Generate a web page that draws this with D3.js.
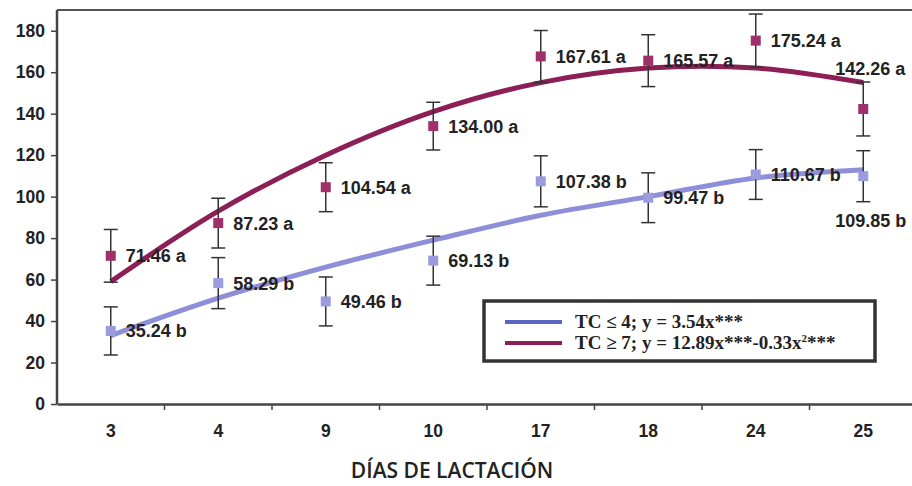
<!DOCTYPE html>
<html lang="es">
<head>
<meta charset="UTF-8">
<title>Días de lactación</title>
<script src="https://d3js.org/d3.v7.min.js"></script>
<style>
  body { margin: 0; background: #fff; }
  .axis text { font-family: "Liberation Sans", Arial, sans-serif; font-weight: bold; font-size: 17.5px; fill: #222; }
  .axis path, .axis line { stroke: #444; }
  .lbl { font-family: "Liberation Sans", Arial, sans-serif; font-weight: bold; font-size: 18px; fill: #222; }
  .leg { font-family: "Liberation Serif", "Times New Roman", serif; font-weight: bold; font-size: 19px; fill: #222; }
  .xtitle { font-family: "Open Sans", sans-serif; font-weight: 600; font-size: 21px; fill: #222; }
</style>
</head>
<body>
<svg id="chart" width="912" height="486"></svg>
<script>
// días de lactación
const days = ["3", "4", "9", "10", "17", "18", "24", "25"];
// TC >= 7
const highMeans = [71.46, 87.23, 104.54, 134.00, 167.61, 165.57, 175.24, 142.26];
const highLetters = ["a", "a", "a", "a", "a", "a", "a", "a"];
const highErr = [12.7, 12, 11.8, 11.5, 12.5, 12.5, 12.8, 13];
const highFit = [59, 93, 120, 141, 155, 162, 162, 155];
// TC <= 4
const lowMeans = [35.24, 58.29, 49.46, 69.13, 107.38, 99.47, 110.67, 109.85];
const lowLetters = ["b", "b", "b", "b", "b", "b", "b", "b"];
const lowErr = [11.6, 12.3, 11.8, 11.8, 12.3, 12, 12, 12.3];
const lowFit = [33, 51, 66, 79, 91, 100, 109, 113];
const yTicks = [0, 20, 40, 60, 80, 100, 120, 140, 160, 180];

const svg = d3.select("#chart");
const plotL = 57, plotR = 917, plotT = 10, plotB = 404;

const x = d3.scaleBand().domain(days).range([plotL, plotR]).padding(0);
const y = d3.scaleLinear().domain([0, 190]).range([plotB, plotT]);
const cx = d => x(d) + x.bandwidth() / 2;

const highColor = "#a0306a", highLine = "#8c1f55";
const lowColor = "#9b9be0", lowLine = "#8e8ed9";

// top border
svg.append("line").attr("x1", plotL).attr("x2", 912).attr("y1", plotT).attr("y2", plotT)
  .attr("stroke", "#555").attr("stroke-width", 2);

// y axis
const ya = svg.append("g").attr("class", "axis")
  .attr("transform", `translate(${plotL},0)`)
  .call(d3.axisLeft(y).tickValues(yTicks).tickSize(6).tickPadding(6).tickSizeOuter(0));
ya.select(".domain").remove();
ya.selectAll(".tick line").attr("stroke-width", 1.5);
svg.append("line").attr("x1", plotL).attr("x2", plotL).attr("y1", plotT).attr("y2", plotB)
  .attr("stroke", "#444").attr("stroke-width", 2.5);

// x axis
const xa = svg.append("g").attr("class", "axis")
  .attr("transform", `translate(0,${plotB})`)
  .call(d3.axisBottom(x).tickSize(0).tickPadding(21).tickSizeOuter(0));
xa.select(".domain").attr("stroke-width", 2.5);
svg.selectAll(".xb").data(days.slice(1)).enter().append("line")
  .attr("x1", d => x(d)).attr("x2", d => x(d))
  .attr("y1", plotB).attr("y2", plotB + 6)
  .attr("stroke", "#444").attr("stroke-width", 1.5);

svg.append("text").attr("class", "xtitle")
  .attr("x", 452).attr("y", 478).attr("text-anchor", "middle")
  .text("DÍAS DE LACTACIÓN");

// fitted curves
const fitLine = d3.line().x((d, i) => cx(days[i])).y(d => y(d)).curve(d3.curveCatmullRom);
svg.append("path").datum(lowFit).attr("d", fitLine)
  .attr("fill", "none").attr("stroke", lowLine).attr("stroke-width", 5);
svg.append("path").datum(highFit).attr("d", fitLine)
  .attr("fill", "none").attr("stroke", highLine).attr("stroke-width", 5);

// error bars and markers
function drawSeries(means, errs, color) {
  const g = svg.append("g");
  means.forEach((m, i) => {
    const px = cx(days[i]);
    const y1 = y(m + errs[i]), y0 = y(m - errs[i]);
    g.append("line").attr("x1", px).attr("x2", px).attr("y1", y1).attr("y2", y0)
      .attr("stroke", "#333").attr("stroke-width", 1.5);
    [y1, y0].forEach(yy => g.append("line")
      .attr("x1", px - 7).attr("x2", px + 7).attr("y1", yy).attr("y2", yy)
      .attr("stroke", "#333").attr("stroke-width", 1.5));
    g.append("rect").attr("x", px - 5).attr("y", y(m) - 5)
      .attr("width", 10).attr("height", 10).attr("fill", color);
  });
}
drawSeries(lowMeans, lowErr, lowColor);
drawSeries(highMeans, highErr, highColor);

// value labels
const shift = { "high-7": [-28, -40], "low-7": [-28, 44] };
function drawLabels(means, letters, key) {
  means.forEach((m, i) => {
    const off = shift[key + "-" + i] || [15, 0];
    svg.append("text").attr("class", "lbl")
      .attr("x", cx(days[i]) + off[0]).attr("y", y(m) + off[1])
      .attr("dy", "0.36em")
      .text(m.toFixed(2) + " " + letters[i]);
  });
}
drawLabels(lowMeans, lowLetters, "low");
drawLabels(highMeans, highLetters, "high");

// legend
const lg = svg.append("g");
lg.append("rect").attr("x", 484).attr("y", 301).attr("width", 391).attr("height", 60)
  .attr("fill", "#fff").attr("stroke", "#333").attr("stroke-width", 3.5);
lg.append("line").attr("x1", 505).attr("x2", 562).attr("y1", 322).attr("y2", 322)
  .attr("stroke", "#5a66c4").attr("stroke-width", 4);
lg.append("line").attr("x1", 505).attr("x2", 562).attr("y1", 343).attr("y2", 343)
  .attr("stroke", "#8c1f55").attr("stroke-width", 4);
lg.append("text").attr("class", "leg").attr("x", 575).attr("y", 328)
  .text("TC ≤ 4; y = 3.54x***");
const t2 = lg.append("text").attr("class", "leg").attr("x", 575).attr("y", 349);
t2.append("tspan").text("TC ≥ 7; y = 12.89x***-0.33x");
t2.append("tspan").attr("dy", -7).attr("font-size", 11).text("2");
t2.append("tspan").attr("dy", 7).text("***");
</script>
</body>
</html>
